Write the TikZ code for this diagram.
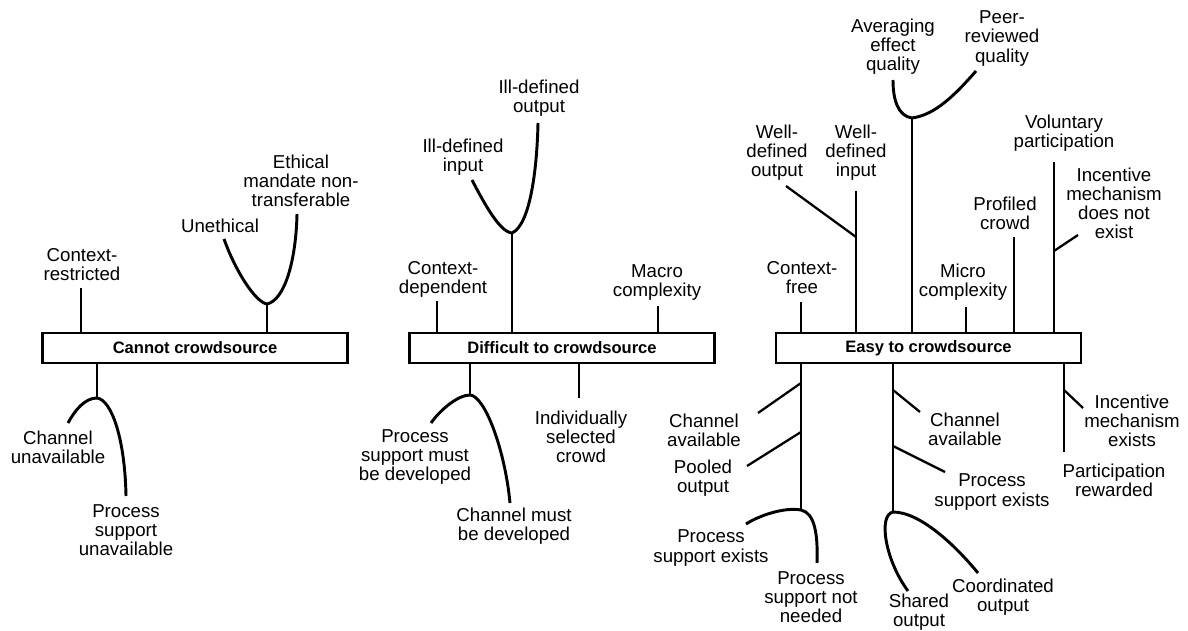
\documentclass[tikz,border=0pt]{standalone}
\usepackage{fontspec}
\setmainfont{Liberation Sans}
\begin{document}
\begin{tikzpicture}[x=0.75pt,y=-0.75pt,
  lbl/.style={align=center, inner sep=0pt, font=\fontsize{14}{14.3}\selectfont},
  box/.style={draw, line width=2pt, minimum width=228.75pt, minimum height=22.5pt,
    inner sep=0pt, font=\fontsize{12.4}{14}\selectfont\bfseries},
  stem/.style={line width=2.2pt},
  twig/.style={line width=1.7pt}]
\useasboundingbox (0,0) rectangle (1188,631);

% ---------- the three boxes ----------
\node[box] (b1) at (195,348) {Cannot crowdsource};
\node[box] (b2) at (562,348) {Difficult to crowdsource};
\node[box] (b3) at (928.5,348) {Easy to crowdsource};

% ---------- labels: Cannot crowdsource ----------
\node[lbl] (ctxr) at (82,264.5) {Context-\\restricted};
\node[lbl] (uneth) at (220,226) {Unethical};
\node[lbl] (ethic) at (301,181) {Ethical\\mandate non-\\transferable};
\node[lbl] (chun) at (58,447) {Channel\\unavailable};
\node[lbl] (psun) at (126,530) {Process\\support\\unavailable};

% ---------- labels: Difficult to crowdsource ----------
\node[lbl] (ctxd) at (443,279) {Context-\\dependent};
\node[lbl] (illin) at (463,157) {Ill-defined\\input};
\node[lbl] (illout) at (539,98.5) {Ill-defined\\output};
\node[lbl] (macro) at (657,282.5) {Macro\\complexity};
\node[lbl] (psdev) at (415,457) {Process\\support must\\be developed};
\node[lbl] (chdev) at (514,526.5) {Channel must\\be developed};
\node[lbl] (indiv) at (581,437) {Individually\\selected\\crowd};

% ---------- labels: Easy to crowdsource ----------
\node[lbl] (ctxf) at (802,277.5) {Context-\\free};
\node[lbl] (wdout) at (777,153) {Well-\\defined\\output};
\node[lbl] (wdin) at (856,153) {Well-\\defined\\input};
\node[lbl] (avg) at (893,47) {Averaging\\effect\\quality};
\node[lbl] (peer) at (1002,38.5) {Peer-\\reviewed\\quality};
\node[lbl] (micro) at (963,282.5) {Micro\\complexity};
\node[lbl] (prof) at (1005,213.5) {Profiled\\crowd};
\node[lbl] (vol) at (1064,133.5) {Voluntary\\participation};
\node[lbl] (incno) at (1114,203.5) {Incentive\\mechanism\\does not\\exist};
\node[lbl] (chav1) at (704,430) {Channel\\available};
\node[lbl] (pool) at (703,478) {Pooled\\output};
\node[lbl] (psex1) at (711,548) {Process\\support exists};
\node[lbl] (psnn) at (811,597) {Process\\support not\\needed};
\node[lbl] (chav2) at (965,429.5) {Channel\\available};
\node[lbl] (psex2) at (992,492) {Process\\support exists};
\node[lbl] (shared) at (919,612) {Shared\\output};
\node[lbl] (coord) at (1003,597.5) {Coordinated\\output};
\node[lbl] (incex) at (1132,420.5) {Incentive\\mechanism\\exists};
\node[lbl] (part) at (1114,480.5) {Participation\\rewarded};

% ---------- branch points and free ends ----------
% Cannot crowdsource
\coordinate (crE) at (81,288);
\coordinate (ej) at (267,304);
\coordinate (unE) at (224,239);
\coordinate (etE) at (297,214);
\coordinate (bj) at (97,398);
\coordinate (chE) at (68,423);
\coordinate (psE) at (126,496);
% Difficult to crowdsource
\coordinate (cdE) at (437,301);
\coordinate (ij) at (512,233);
\coordinate (iiE) at (472,180);
\coordinate (ioE) at (538,123);
\coordinate (mcE) at (658,306);
\coordinate (dj) at (470,395);
\coordinate (pdE) at (431,423);
\coordinate (cmE) at (510,503);
\coordinate (isE) at (579,398);
% Easy to crowdsource, above
\coordinate (cfE) at (801,302);
\coordinate (wiE) at (856,191);
\coordinate (woOn) at (856,237);
\coordinate (woE) at (786,186);
\coordinate (aj) at (912,118);
\coordinate (avE) at (893,80);
\coordinate (prE) at (976,71);
\coordinate (miE) at (966,307);
\coordinate (pcE) at (1014,237);
\coordinate (voE) at (1054,162);
\coordinate (inOn) at (1054,251);
\coordinate (inE) at (1078,235);
% Easy to crowdsource, below
\coordinate (lj) at (801,510);
\coordinate (ca1On) at (801,383);
\coordinate (ca1E) at (758,413);
\coordinate (poOn) at (801,432);
\coordinate (poE) at (747,466);
\coordinate (peE) at (746,524);
\coordinate (pnE) at (817,563);
\coordinate (rj) at (893,512);
\coordinate (ca2On) at (893,390);
\coordinate (ca2E) at (920,412);
\coordinate (ps2On) at (893,446);
\coordinate (ps2E) at (945,472);
\coordinate (shE) at (908,591);
\coordinate (coE) at (978,573);
\coordinate (frE) at (1064,452);
\coordinate (ieOn) at (1064,390);
\coordinate (ieE) at (1083,408);

% ---------- Cannot crowdsource ----------
\draw[stem] (b1.north -| crE) -- (crE);
\draw[stem] (b1.north -| ej) -- (ej);
\draw[stem] (unE) .. controls (235,270) and (255,302) .. (ej)
            .. controls (285,300) and (296,260) .. (etE);
\draw[stem] (b1.south -| bj) -- (bj);
\draw[stem] (chE) .. controls (75,410) and (85,398) .. (bj)
            .. controls (112,400) and (125,440) .. (psE);

% ---------- Difficult to crowdsource ----------
\draw[stem] (b2.north -| cdE) -- (cdE);
\draw[stem] (b2.north -| ij) -- (ij);
\draw[stem] (iiE) .. controls (485,205) and (500,232) .. (ij)
            .. controls (530,225) and (537,170) .. (ioE);
\draw[stem] (b2.north -| mcE) -- (mcE);
\draw[stem] (b2.south -| dj) -- (dj);
\draw[stem] (pdE) .. controls (440,410) and (458,395) .. (dj)
            .. controls (485,396) and (505,450) .. (cmE);
\draw[stem] (b2.south -| isE) -- (isE);

% ---------- Easy to crowdsource, above ----------
\draw[stem] (b3.north -| cfE) -- (cfE);
\draw[stem] (b3.north -| wiE) -- (wiE);
\draw[twig] (woOn) -- (woE);
\draw[stem] (b3.north -| aj) -- (aj);
\draw[stem] (avE) .. controls (893,100) and (898,116) .. (aj)
            .. controls (935,115) and (955,95) .. (prE);
\draw[stem] (b3.north -| miE) -- (miE);
\draw[stem] (b3.north -| pcE) -- (pcE);
\draw[stem] (b3.north -| voE) -- (voE);
\draw[twig] (inOn) -- (inE);

% ---------- Easy to crowdsource, below ----------
\draw[stem] (b3.south -| lj) -- (lj);
\draw[twig] (ca1On) -- (ca1E);
\draw[twig] (poOn) -- (poE);
\draw[stem] (peE) .. controls (760,515) and (785,507) .. (lj)
            .. controls (815,513) and (818,535) .. (pnE);
\draw[stem] (b3.south -| rj) -- (rj);
\draw[twig] (ca2On) -- (ca2E);
\draw[twig] (ps2On) -- (ps2E);
\draw[stem] (shE) .. controls (885,560) and (878,515) .. (rj)
            .. controls (920,512) and (955,545) .. (coE);
\draw[stem] (b3.south -| frE) -- (frE);
\draw[twig] (ieOn) -- (ieE);
\end{tikzpicture}
\end{document}
